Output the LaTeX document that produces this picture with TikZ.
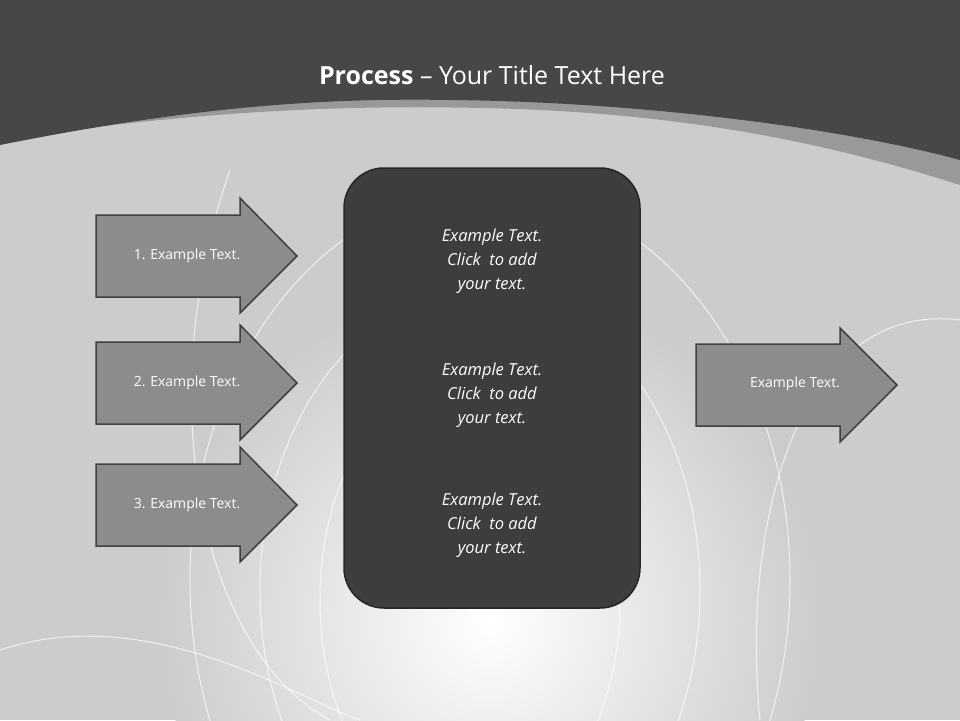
\documentclass[tikz,border=0pt]{standalone}
\usepackage{fontspec}
\setmainfont{Open Sans}
\begin{document}
\begin{tikzpicture}[x=1pt,y=-1pt,
  arr/.style={fill=black!45,draw=black!75,line width=1.5pt},
  lbl/.style={text=white,font=\fontsize{14}{16}\selectfont},
  ctext/.style={text=white,font=\itshape\fontsize{16.5}{24}\selectfont,align=center}]
\useasboundingbox (0,0) rectangle (960,720);
% background
\fill[black!20] (0,0) rectangle (960,720);
\shade[inner color=white,outer color=black!20] (490,620) circle (330);
% spiral lines
\begin{scope}[white,line width=1pt,opacity=0.7]
\draw (470,600) ellipse (150 and 230);
\draw (480,590) ellipse (220 and 300);
\draw (490,580) ellipse (300 and 390);
\draw (230,170) .. controls (150,400) and (200,650) .. (330,720);
\draw (960,320) .. controls (800,300) and (740,520) .. (760,720);
\draw (0,650) .. controls (150,600) and (300,700) .. (360,720);
\end{scope}
% top band
\fill[black!40] (0,140) .. controls (200,110) and (350,105) .. (480,108) .. controls (700,112) and (850,150) .. (960,185) -- (960,0) -- (0,0) -- cycle;
\fill[black!72] (0,145) .. controls (200,105) and (330,98) .. (450,100) .. controls (650,102) and (850,130) .. (960,160) -- (960,0) -- (0,0) -- cycle;
\node (title) at (492,75) {\fontsize{25}{30}\selectfont\color{white}\textbf{Process} -- Your Title Text Here};
% center box
\node[fill=black!76,draw=black!85,line width=1.5pt,rounded corners=40pt,minimum width=296pt,minimum height=440pt] (box) at (492,388) {};
\node[ctext] (t1) at (492,261) {Example Text.\\Click\ \ to add\\your text.};
\node[ctext] (t2) at (492,395) {Example Text.\\Click\ \ to add\\your text.};
\node[ctext] (t3) at (492,525) {Example Text.\\Click\ \ to add\\your text.};
% left arrows
\foreach \n/\c in {1/256,2/383,3/505}{
  \draw[arr] (96,\c-41) -- (240,\c-41) -- (240,\c-58) -- (297,\c) -- (240,\c+57) -- (240,\c+41) -- (96,\c+41) -- cycle;
  \node[lbl] (a\n) at (187,\c) {\n. Example Text.};
}
\draw[arr] (696,344) -- (840,344) -- (840,328) -- (897,385) -- (840,442) -- (840,426) -- (696,426) -- cycle;
\node[lbl] (ar) at (795,384) {Example Text.};
\end{tikzpicture}
\end{document}
